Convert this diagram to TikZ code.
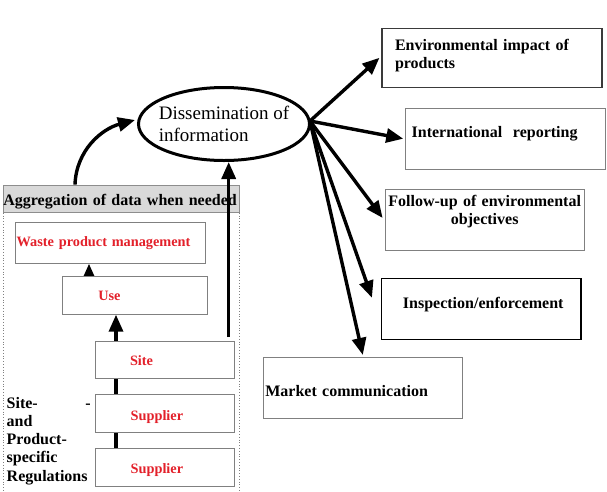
\documentclass[tikz,border=0pt]{standalone}
\usepackage{fontspec}
\setmainfont{Liberation Serif}
\usepackage{xcolor}
\usepackage{tikz}
\usetikzlibrary{arrows.meta,positioning,calc,shapes.geometric,backgrounds}
\definecolor{ink}{HTML}{000000}
\definecolor{rdd}{HTML}{E3202A}
\definecolor{gry}{HTML}{808080}
\definecolor{gryD}{HTML}{3A3A3A}
\definecolor{hdr}{HTML}{D9D9D9}
\tikzset{
  box/.style  ={draw=gry, fill=white, line width=.8pt, inner ysep=0pt, align=left,
                font=\fontsize{16}{18}\selectfont\bfseries, text=ink},
  rbox/.style ={box, font=\fontsize{14.3}{16}\selectfont\bfseries, text=rdd},
  hbox/.style ={box, fill=hdr, draw=gry!90},
  oval/.style ={ellipse, draw=ink, line width=3pt, align=left, inner xsep=-6pt, inner ysep=3pt,
                font=\fontsize{19}{21.7}\selectfont},
  lbl/.style  ={font=\fontsize{16}{18.3}\selectfont\bfseries, text=ink, align=left, inner sep=0pt},
  flow/.style ={-{Triangle[length=17pt,width=14pt]}, line width=3.4pt, draw=ink},
  grpl/.style ={draw=gry, dotted, line width=.8pt},
}
\begin{document}
\begin{tikzpicture}[x=1pt,y=-1pt]
  \useasboundingbox (0,0) rectangle (607,491);
  % --- dissemination ---
  \node[oval, minimum width=171pt, minimum height=73pt] (diss) at (224,124)
       {Dissemination of\\information};
  % --- right hand boxes ---
  \node[box, draw=gryD, line width=1.1pt, minimum width=220pt, minimum height=59pt, text width=194pt,
        inner xsep=13pt, text height=22.2pt, text depth=36.8pt] (env) at (492,57.8)
       {Environmental impact of\\products};
  \node[box, minimum width=199.3pt, minimum height=60.7pt, text width=187.3pt,
        inner xsep=6pt, text height=28.7pt, text depth=32pt] (intl) at (505.3,138.7)
       {International~~reporting};
  \node[box, align=center, minimum width=199.3pt, minimum height=61.3pt, text width=197.3pt,
        inner xsep=1pt, text height=16.7pt, text depth=44.6pt] (follow) at (484.7,220)
       {Follow-up of environmental\\objectives};
  \node[box, draw=ink, line width=1.4pt, minimum width=199.3pt, minimum height=61pt, text width=156.7pt,
        inner xsep=21.3pt, text height=30pt, text depth=31pt] (insp) at (481.3,308.8)
       {Inspection/enforcement};
  \node[box, minimum width=199pt, minimum height=61pt, text width=195pt,
        inner xsep=2pt, text height=38.7pt, text depth=22.3pt] (market) at (362.8,387.8)
       {Market communication};
  % --- aggregation column ---
  \node[hbox, minimum width=236pt, minimum height=27.3pt, text width=236pt,
        inner xsep=0pt, text height=20.7pt, text depth=6.6pt] (agg) at (121.3,198.7)
       {Aggregation of data when needed};
  \node[rbox, minimum width=190pt, minimum height=40.6pt, text width=188pt,
        inner xsep=1pt, text height=23.3pt, text depth=17.3pt] (waste) at (110.7,243)
       {Waste product management};
  \node[rbox, minimum width=145pt, minimum height=37.6pt, text width=73pt,
        inner xsep=36pt, text height=24pt, text depth=13.6pt] (use) at (134.8,295.5) {Use};
  \node[rbox, minimum width=138.6pt, minimum height=37.3pt, text width=70pt,
        inner xsep=34.3pt, text height=24.7pt, text depth=12.6pt] (site) at (165,359.7) {Site};
  \node[rbox, minimum width=138.6pt, minimum height=38pt, text width=68.6pt,
        inner xsep=35pt, text height=25.7pt, text depth=12.3pt] (sup1) at (165,413.3) {Supplier};
  \node[rbox, minimum width=138.6pt, minimum height=37.3pt, text width=68.6pt,
        inner xsep=35pt, text height=25.3pt, text depth=12pt] (sup2) at (165,467.3) {Supplier};
  \node[lbl, anchor=base west, text width=84pt] (regs) at (6.5,408)
       {Site-\hfill-\\and\\Product-\\specific\\Regulations};
  % dotted frame round the column
  \coordinate (bot) at (0,491);
  \draw[grpl] (agg.south west) -- (agg.south west |- bot);
  \draw[grpl] (agg.south east) -- (agg.south east |- bot);
  % --- flows inside the column (behind the boxes) ---
  \coordinate (lx) at (116,0);
  \coordinate (ux) at (89,0);
  \begin{scope}[on background layer]
    \draw[flow] (sup2.north -| lx) -- (use.south -| lx);
    \draw[flow] (use.north -| ux) -- (waste.south -| ux);
  \end{scope}
  % --- up to dissemination ---
  \coordinate (cx) at (75,0);
  \draw[flow] (agg.north -| cx) to[out=88,in=195] ($(diss.west)+(-2,-4)$);
  \coordinate (rv) at ($(site.north east)+(-6,-3.5)$);
  \draw[flow] (rv) -- (rv |- diss.south);
  % --- fan out ---
  \coordinate (fan) at ($(diss.east)+(-1,-3)$);
  \foreach \b/\a/\d in {env/west/{-2,0},intl/west/{-2,0},follow/west/{-2,-2},market/north/{0,-2}}
     \draw[flow] (fan) -- ($(\b.\a)+(\d)$);
  \draw[flow] (fan) -- ($(insp.west)+(-9,-11)$);
\end{tikzpicture}
\end{document}
